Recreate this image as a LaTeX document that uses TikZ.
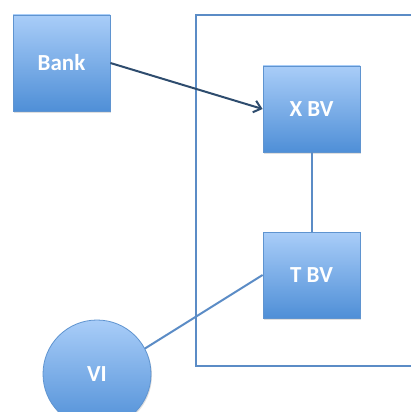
\documentclass[tikz,border=0pt]{standalone}
\usepackage{fontspec}
\setmainfont{Carlito}
\usetikzlibrary{arrows.meta,shadows,shapes.geometric}
\definecolor{boxtop}{HTML}{A9CDF8}
\definecolor{boxbot}{HTML}{4F8FD7}
\definecolor{boxedge}{HTML}{5F94D0}
\definecolor{linecol}{HTML}{5B8CC6}
\definecolor{arrowcol}{HTML}{2E4C6E}
\tikzset{
  blockbox/.style={draw=boxedge, line width=0.8pt, top color=boxtop, bottom color=boxbot,
    minimum width=97pt, minimum height=#1, inner sep=0pt,
    font=\fontsize{23}{23}\selectfont\bfseries, text=white,
    drop shadow={shadow xshift=1pt, shadow yshift=-1.5pt, opacity=0.25}},
  blockcirc/.style={draw=boxedge, line width=0.8pt, top color=boxtop, bottom color=boxbot,
    ellipse, minimum width=108pt, minimum height=108pt, inner sep=0pt,
    font=\fontsize{23}{23}\selectfont\bfseries, text=white,
    drop shadow={shadow xshift=1pt, shadow yshift=-1.5pt, opacity=0.25}},
  frameline/.style={draw=linecol, line width=2pt},
  link/.style={draw=linecol, line width=2pt},
  arrowlink/.style={draw=arrowcol, line width=2pt, -{Straight Barb[length=7pt,width=12pt]}},
}
\begin{document}
\begin{tikzpicture}[x=1pt,y=1pt]
\useasboundingbox (0,0) rectangle (411,-412);
\fill[white] (0,0) rectangle (411,-412);
\begin{scope}
\clip (0,0) rectangle (411,-412);
\draw[frameline] (420,-15) -- (196,-15) -- (196,-366) -- (420,-366);
\node[blockbox=96pt] (bank) at (61.5,-63) {Bank};
\node[blockbox=86pt] (xbv) at (311.5,-109) {X BV};
\node[blockbox=86pt] (tbv) at (311.5,-275) {T BV};
\node[blockcirc] (vi) at (97,-374) {VI};
\draw[link] (xbv.south) -- (tbv.north);
\draw[link] (vi.28) -- (tbv.west);
\draw[arrowlink] (bank.east |- 0,-63) -- (xbv.west |- 0,-109);
\end{scope}
\end{tikzpicture}
\end{document}
